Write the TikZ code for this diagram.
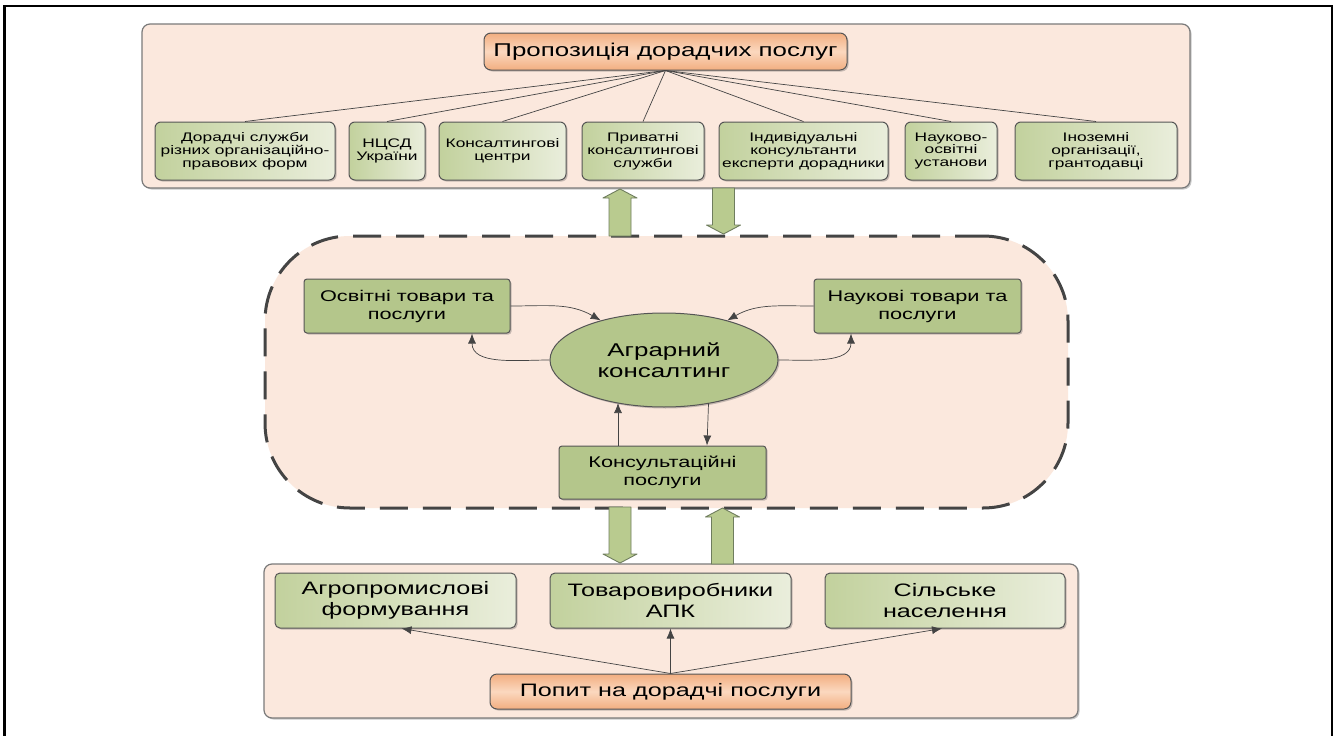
\documentclass[tikz,border=0pt]{standalone}
\usepackage{fontspec}
\setmainfont[FakeStretch=1.4]{Liberation Sans}
\usetikzlibrary{shapes.geometric,arrows.meta,calc,shadows}
\definecolor{panelfill}{HTML}{FBE8DD}
\definecolor{paneledge}{HTML}{7A7A7A}
\definecolor{boxedge}{HTML}{555555}
\definecolor{orangeA}{HTML}{F2AE80}
\definecolor{orangeB}{HTML}{FBD8BF}
\definecolor{greenA}{HTML}{C2D19D}
\definecolor{greenB}{HTML}{EAEEDC}
\definecolor{greenS}{HTML}{B4C68B}
\definecolor{arrowfill}{HTML}{B9CB8F}
\definecolor{arrowedge}{HTML}{6F7D5E}
\definecolor{linec}{HTML}{444444}
\tikzset{
  softshadow/.style={drop shadow={shadow xshift=1.5pt, shadow yshift=-1.5pt, opacity=0.3, fill=black!70}},
  panelbox/.style={draw=paneledge, fill=panelfill, line width=1.2pt, rounded corners=8pt, inner sep=0pt, softshadow},
  hdrbox/.style={draw=boxedge, line width=1pt, rounded corners=7pt, top color=orangeA, bottom color=orangeA, middle color=orangeB, inner sep=0pt, align=center, font=\fontsize{18.5}{20}\selectfont, softshadow},
  topbox/.style={draw=boxedge, line width=1pt, rounded corners=6pt, left color=greenA, right color=greenB, inner sep=0pt, align=center, minimum height=58pt, font=\fontsize{12.4}{12.8}\selectfont, softshadow},
  midbox/.style={draw=boxedge, line width=1pt, rounded corners=3pt, fill=greenS, inner sep=0pt, align=center, font=\fontsize{15.5}{18}\selectfont, softshadow},
  botbox/.style={draw=boxedge, line width=1pt, rounded corners=5pt, left color=greenA, right color=greenB, inner sep=0pt, align=center, minimum width=241pt, minimum height=55pt, font=\fontsize{18}{20.5}\selectfont, softshadow},
  blockarr/.style={draw=arrowedge, fill=arrowfill, line width=0.9pt, line join=round},
  thin/.style={draw=linec, line width=0.7pt},
  arr/.style={draw=linec, line width=0.7pt, -{Latex[length=10pt,width=8pt]}}
}
% block arrow: centre x, tip y, base y, direction (+1 up, -1 down)
\newcommand\blockarrow[4]{%
  \draw[blockarr] (#1,#2) -- (#1+17,#2+#4*9) -- (#1+11,#2+#4*9) -- (#1+11,#3) -- (#1-11,#3) -- (#1-11,#2+#4*9) -- (#1-17,#2+#4*9) -- cycle;}
\begin{document}
\begin{tikzpicture}[x=1pt,y=-1pt]
\useasboundingbox (0,0) rectangle (1336,736);
\fill[white] (0,0) rectangle (1336,736);
% outer frame
\draw[black, line width=2.6pt] (4.5,740) -- (4.5,6) -- (1332,6) -- (1332,740);

% ---------- top panel ----------
\node[panelbox, minimum width=1048pt, minimum height=164pt] (tp) at (666,106) {};
\node[hdrbox, minimum width=363pt, minimum height=37pt] (hdr) at (665.5,51.5) {Пропозиція дорадчих послуг};
\node[topbox, minimum width=180pt] (b1) at (245,151) {Дорадчі служби\\різних організаційно-\\правових форм};
\node[topbox, minimum width=76pt]  (b2) at (387,151) {НЦСД\\України};
\node[topbox, minimum width=127pt] (b3) at (502.5,151) {Консалтингові\\центри};
\node[topbox, minimum width=122pt] (b4) at (643,151) {Приватні\\консалтингові\\служби};
\node[topbox, minimum width=169pt] (b5) at (803.5,151) {Індивідуальні\\консультанти\\експерти дорадники};
\node[topbox, minimum width=92pt]  (b6) at (951,151) {Науково-\\освітні\\установи};
\node[topbox, minimum width=162pt] (b7) at (1096,151) {Іноземні\\організації,\\грантодавці};
\foreach \b in {b1,b2,b3,b4,b5,b6,b7}{\draw[thin] (hdr.south) -- (\b.north);}

% ---------- middle (dashed) ----------
\node[draw=linec, fill=panelfill, line width=3pt, dash pattern=on 28pt off 15pt, rounded corners=85pt, minimum width=803pt, minimum height=272pt] (mid) at (666.5,372) {};
\node[midbox, minimum width=206pt, minimum height=54pt] (osv) at (407,306) {Освітні товари та\\послуги};
\node[midbox, minimum width=207pt, minimum height=54pt] (nauk) at (917.5,306) {Наукові товари та\\послуги};
\node[draw=boxedge, line width=1pt, fill=greenS, ellipse, minimum width=228pt, minimum height=94pt, inner sep=0pt, align=center, font=\fontsize{18.5}{21.5}\selectfont, softshadow] (ell) at (664,360) {Аграрний\\консалтинг};
\node[midbox, minimum width=207pt, minimum height=53pt] (kons) at (662.5,472.5) {Консультаційні\\послуги};

\draw[arr] (osv.east) to[out=0,in=150] (ell.148);
\draw[arr] (nauk.west) to[out=180,in=30] (ell.32);
\draw[arr] (ell.west) to[out=180,in=-90] ([xshift=65pt]osv.south);
\draw[arr] (ell.east) to[out=0,in=-90] ([xshift=-66.5pt]nauk.south);
\draw[arr] ([xshift=-44.5pt]kons.north) -- ($(ell.center)+(-46,43)$);
\draw[arr] ($(ell.center)+(44.5,43.5)$) -- ([xshift=44.5pt]kons.north);

% block arrows between top panel and middle
\blockarrow{620}{189}{236}{1}
\blockarrow{723.5}{234}{188}{-1}

% ---------- bottom panel ----------
\node[panelbox, minimum width=814pt, minimum height=154pt] (bp) at (671,641) {};
\blockarrow{620}{563}{507}{-1}
\blockarrow{722.5}{508}{564}{1}

\node[botbox] (agro) at (395.5,600.5) {Агропромислові\\формування};
\node[botbox] (tov) at (670.5,600.5) {Товаровиробники\\АПК};
\node[botbox, minimum width=240pt] (sil) at (945,600.5) {Сільське\\населення};
\node[hdrbox, minimum width=361pt, minimum height=35pt, font=\fontsize{18}{20}\selectfont] (pop) at (670.5,691.5) {Попит на дорадчі послуги};
\draw[arr] (pop.north) -- ([xshift=6pt]agro.south);
\draw[arr] (pop.north) -- (tov.south);
\draw[arr] (pop.north) -- ([xshift=-3pt]sil.south);
\end{tikzpicture}
\end{document}
